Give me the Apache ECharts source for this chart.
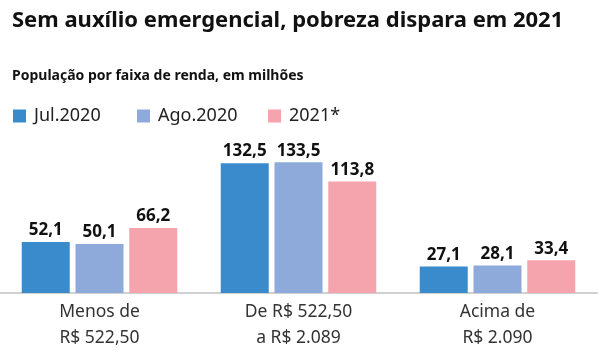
<!DOCTYPE html>
<html>
<head>
<meta charset="utf-8">
<script src="https://cdn.jsdelivr.net/npm/echarts@6/dist/echarts.min.js"></script>
<style>
  html, body { margin: 0; padding: 0; background: #fff; }
  #chart { width: 600px; height: 360px; }
</style>
</head>
<body>
<div id="chart"></div>
<script>
const categories = ['Menos de\nR$ 522,50', 'De R$ 522,50\na R$ 2.089', 'Acima de\nR$ 2.090'];
const seriesNames = ['Jul.2020', 'Ago.2020', '2021*'];
const jul2020 = [52.1, 132.5, 27.1];
const ago2020 = [50.1, 133.5, 28.1];
const y2021 = [66.2, 113.8, 33.4];
const colors = ['#3a8bcc', '#8eaadb', '#f5a3ad'];

const FONT = '"Noto Sans", sans-serif';
const chart = echarts.init(document.getElementById('chart'), null, { renderer: 'canvas' });

const dataSets = [jul2020, ago2020, y2021];
const series = dataSets.map((d, i) => ({
  name: seriesNames[i],
  type: 'bar',
  data: d,
  barWidth: 48,
  barGap: '12%',
  itemStyle: { color: colors[i] },
  label: {
    show: true,
    position: 'top',
    distance: 3,
    fontFamily: FONT,
    fontWeight: 'bold',
    fontSize: 17,
    color: '#111',
    formatter: p => String(p.value).replace('.', ',')
  },
  emphasis: { disabled: true },
  animation: false
}));

const legendLefts = [13, 137, 268];
const legends = seriesNames.map((n, i) => ({
  data: [n],
  left: legendLefts[i], top: 107,
  padding: 0,
  itemWidth: 13, itemHeight: 13,
  icon: 'rect',
  textStyle: { fontFamily: FONT, fontSize: 18, color: '#222', padding: [0, 0, 0, 3] }
}));

chart.setOption({
  animation: false,
  title: [
    {
      text: 'Sem auxílio emergencial, pobreza dispara em 2021',
      left: 12, top: 10, padding: 0,
      textStyle: { fontFamily: FONT, fontWeight: 'bold', fontSize: 22, color: '#111' }
    },
    {
      text: 'População por faixa de renda, em milhões',
      left: 12, top: 69, padding: 0,
      textStyle: { fontFamily: FONT, fontWeight: 'bold', fontSize: 14, color: '#111' }
    }
  ],
  legend: legends,
  grid: { left: 0, right: 3, top: 146, bottom: 67, containLabel: false },
  xAxis: {
    type: 'category',
    data: categories,
    axisLine: { lineStyle: { color: '#d0d0d0', width: 2 } },
    axisTick: { show: false },
    axisLabel: {
      fontFamily: FONT, fontSize: 17.5, color: '#333', lineHeight: 26, margin: 6
    }
  },
  yAxis: { type: 'value', min: 0, max: 150, show: false, splitLine: { show: false } },
  series: series
});
</script>
</body>
</html>
